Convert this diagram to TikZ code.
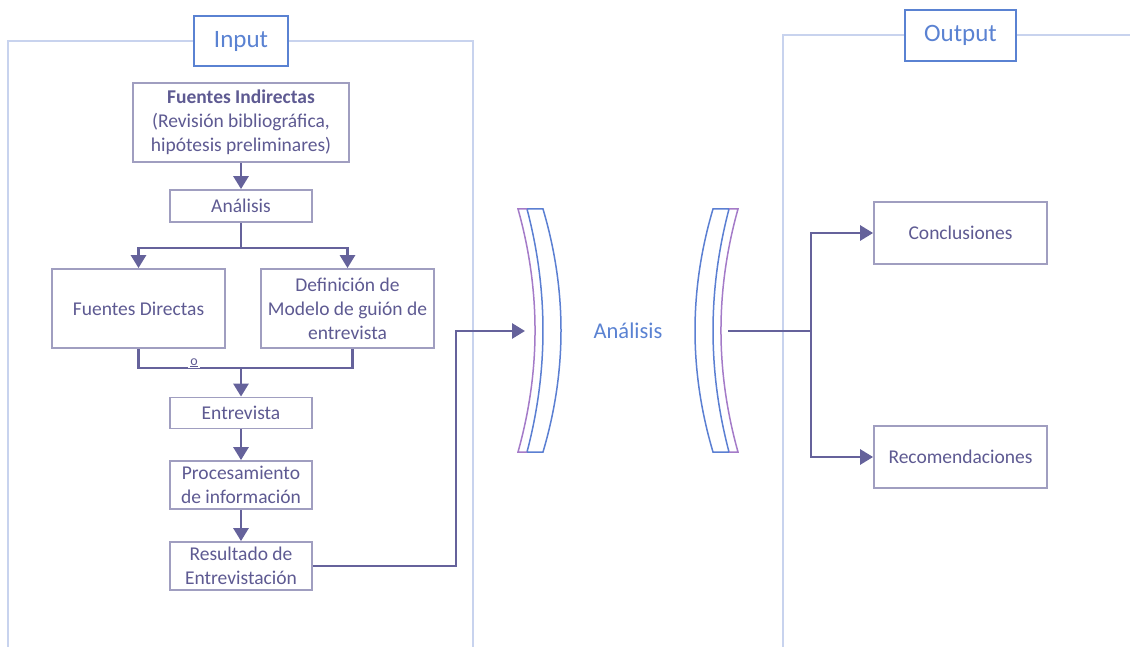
\documentclass[tikz,border=0pt]{standalone}
\usepackage{fontspec}
\setmainfont{Carlito}
\usetikzlibrary{arrows.meta}
\definecolor{boxline}{HTML}{A09EC0}
\definecolor{txt}{HTML}{5E5A92}
\definecolor{conn}{HTML}{65629B}
\definecolor{frameline}{HTML}{C8D3EE}
\definecolor{labelblue}{HTML}{5A82D2}
\definecolor{lenspurple}{HTML}{A47BC8}
\definecolor{lensblue}{HTML}{5B7FD2}
\tikzset{
  stepbox/.style={draw=boxline, line width=1.8pt, fill=white, text=txt,
    inner sep=0pt, align=center, font=\fontsize{19.5}{24}\selectfont},
  framebox/.style={draw=labelblue, line width=1.8pt, fill=white, text=labelblue,
    inner sep=0pt, font=\fontsize{25}{30}\selectfont},
  frameline/.style={draw=frameline, line width=1.8pt},
  conn/.style={draw=conn, line width=2.8pt, line join=miter},
  arr/.style={conn, -{Triangle[length=13pt,width=15pt]}},
  lensband/.style={lensblue, line width=1.5pt, fill=white},
  lensedge/.style={lenspurple, line width=1.5pt},
}
% one lens-shaped bracket, concave towards the left
\newcommand\lensshape{%
  \draw[lensband]
    (527,209) -- (543,209) .. controls (567,290) and (567,371) .. (543,452)
    -- (527,452) .. controls (548.3,371) and (548.3,290) .. (527,209) -- cycle;
  \draw[lensedge]
    (527,209) -- (518,209) .. controls (540.7,290) and (540.7,371) .. (518,452) -- (527,452);
}
\begin{document}
\begin{tikzpicture}[x=1pt,y=-1pt]
\useasboundingbox (0,0) rectangle (1130,647);

% input and output frames
\draw[frameline] (8,647) -- (8,41) -- (473,41) -- (473,647);
\draw[frameline] (783,647) -- (783,35) -- (1130,35);
\node[framebox, minimum width=94pt, minimum height=50pt] (inlabel) at (241,41) {Input};
\node[framebox, minimum width=111pt, minimum height=51pt] (outlabel) at (960.5,35.5) {Output};

% input flow
\node[stepbox, minimum width=216pt, minimum height=79pt] (fi) at (241,122.5)
  {\textbf{Fuentes Indirectas}\\(Revisión bibliográfica,\\hipótesis preliminares)};
\node[stepbox, minimum width=142pt, minimum height=32pt] (an) at (241,206) {Análisis};
\node[stepbox, minimum width=173pt, minimum height=79pt] (fd) at (138.5,308.5) {Fuentes Directas};
\node[stepbox, minimum width=173pt, minimum height=79pt] (def) at (347.5,308.5)
  {Definición de\\Modelo de guión de\\entrevista};
\node[stepbox, minimum width=142pt, minimum height=31pt] (ent) at (241,413) {Entrevista};
\node[stepbox, minimum width=142pt, minimum height=48pt] (proc) at (241,485)
  {Procesamiento\\de información};
\node[stepbox, minimum width=142pt, minimum height=48pt] (res) at (241,566)
  {Resultado de\\Entrevistación};

% output boxes
\node[stepbox, minimum width=173pt, minimum height=62pt] (conc) at (960.5,233) {Conclusiones};
\node[stepbox, minimum width=173pt, minimum height=62pt] (rec) at (960.5,457) {Recomendaciones};

% central label
\node[text=labelblue, font=\fontsize{22.5}{26}\selectfont] (mid) at (628,331) {Análisis};

% lens-shaped brackets around the central label
\lensshape
\begin{scope}[xshift=1256pt, xscale=-1]
  \lensshape
\end{scope}

% connector end points
\coordinate (split1) at (241,248);
\coordinate (merge) at (241,368);
\coordinate (lensin) at (525,331);
\coordinate (lensout) at (728,331);
\coordinate (split2) at (811,331);

% connectors
\draw[arr] (fi) -- (an);
\draw[conn] (an) -- (split1);
\draw[arr] (split1) -| (fd.north);
\draw[arr] (split1) -| (def.north);
\draw[conn] (fd.south) |- (merge);
\draw[conn] ([xshift=5pt]def.south) |- (merge);
\node[text=txt, fill=white, inner xsep=2pt, inner ysep=0.5pt, font=\fontsize{14}{16}\selectfont] (ord) at (194,366)
  {\underline{\smash{o}}};
\draw[arr] (merge) -- (ent);
\draw[arr] (ent) -- (proc);
\draw[arr] (proc) -- (res);
\draw[arr] (res.east) -- (456,566) |- (lensin);
\draw[conn] (lensout) -- (split2);
\draw[arr] (split2) |- (conc.west);
\draw[arr] (split2) |- (rec.west);
\end{tikzpicture}
\end{document}
